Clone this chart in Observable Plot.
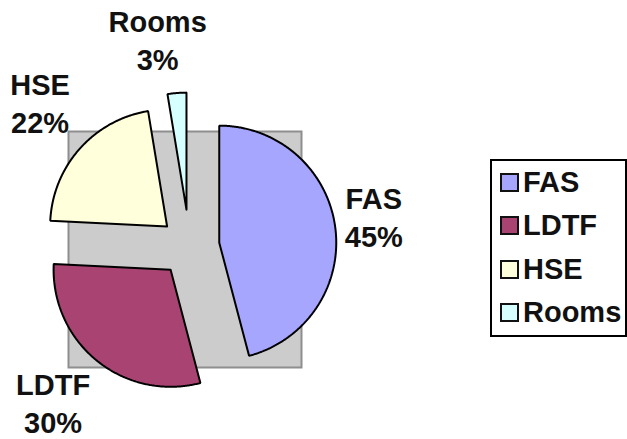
<!DOCTYPE html>
<html>
<head>
<meta charset="utf-8">
<script src="https://cdn.jsdelivr.net/npm/d3@7"></script>
<script src="https://cdn.jsdelivr.net/npm/@observablehq/plot@0.6"></script>
<style>
  html, body { margin: 0; padding: 0; background: #fff; }
  #wrap { position: relative; width: 627px; height: 439px; overflow: hidden; font-family: "Liberation Sans", Arial, sans-serif; }
  #legend { position: absolute; left: 490px; top: 159px; width: 137px; height: 178px; border: 2px solid #000; box-sizing: border-box; background: #fff; }
  .row { height: 43.3px; display: flex; align-items: center; font-weight: bold; font-size: 29px; color: #111; white-space: nowrap; }
  .sw { width: 19px; height: 19px; box-sizing: border-box; border: 2px solid #111; margin-left: 8px; margin-right: 4px; flex: none; }
</style>
</head>
<body>
<div id="wrap"></div>
<script>
// ---- data ----
const categories = ["FAS", "LDTF", "HSE", "Rooms"];
const values = [45.9, 29.9, 21.6, 2.6];
const pctLabels = ["45%", "30%", "22%", "3%"];
const colors = ["#a6a6ff", "#a84372", "#ffffdc", "#d6ffff"];

// ---- layout (pixels) ----
const W = 627, H = 439;
const plotLeft = 68, plotRight = 301, plotTop = 131, plotBottom = 367;
const cx = 189, cy = 246, R = 117;
const explodePx = [30, 30, 30, 37];
const labelRadiusPx = 207;
const labelNudge = [[-21, -1], [-6, -3], [5, -4], [-15, 2]];
const lineHalf = 19;

// ---- geometry in pie units (1 = radius) ----
const total = d3.sum(values);
let acc = 0;
const slices = categories.map((name, i) => {
  const a0 = acc / total * 2 * Math.PI;
  acc += values[i];
  const a1 = acc / total * 2 * Math.PI;
  return {name, i, a0, a1, mid: (a0 + a1) / 2};
});

const polyPts = [];
for (const s of slices) {
  const e = explodePx[s.i] / R;
  const ox = e * Math.sin(s.mid), oy = e * Math.cos(s.mid);
  polyPts.push({name: s.name, x: ox, y: oy});
  const n = Math.max(2, Math.ceil((s.a1 - s.a0) / (Math.PI / 360)));
  for (let k = 0; k <= n; k++) {
    const a = s.a0 + (s.a1 - s.a0) * k / n;
    polyPts.push({name: s.name, x: ox + Math.sin(a), y: oy + Math.cos(a)});
  }
  polyPts.push({name: s.name, x: ox, y: oy});
}

const labels = slices.map(s => {
  const r = labelRadiusPx / R;
  return {
    name: s.name,
    pct: pctLabels[s.i],
    x: r * Math.sin(s.mid) + labelNudge[s.i][0] / R,
    y: r * Math.cos(s.mid) - labelNudge[s.i][1] / R
  };
});

const chart = Plot.plot({
  width: W,
  height: H,
  marginLeft: plotLeft,
  marginRight: W - plotRight,
  marginTop: plotTop,
  marginBottom: H - plotBottom,
  x: {domain: [(plotLeft - cx) / R, (plotRight - cx) / R], axis: null},
  y: {domain: [(cy - plotBottom) / R, (cy - plotTop) / R], axis: null},
  color: {domain: categories, range: colors},
  style: {fontFamily: "'Liberation Sans', Arial, sans-serif", background: "transparent", overflow: "visible"},
  marks: [
    Plot.frame({fill: "#cccccc", stroke: "#8e8e8e", strokeWidth: 2}),
    Plot.line(polyPts, {x: "x", y: "y", z: "name", fill: "name", stroke: "#000", strokeWidth: 2, strokeLinejoin: "miter", curve: "linear"}),
    Plot.text(labels, {x: "x", y: "y", text: "name", dy: -lineHalf, fontSize: 29, fontWeight: "bold", fill: "#111"}),
    Plot.text(labels, {x: "x", y: "y", text: "pct", dy: lineHalf, fontSize: 29, fontWeight: "bold", fill: "#111"})
  ]
});

const wrap = document.getElementById("wrap");
wrap.appendChild(chart);

const legend = document.createElement("div");
legend.id = "legend";
categories.forEach((c, i) => {
  const row = document.createElement("div");
  row.className = "row";
  const sw = document.createElement("span");
  sw.className = "sw";
  sw.style.background = colors[i];
  row.appendChild(sw);
  row.appendChild(document.createTextNode(c));
  legend.appendChild(row);
});
wrap.appendChild(legend);
</script>
</body>
</html>
